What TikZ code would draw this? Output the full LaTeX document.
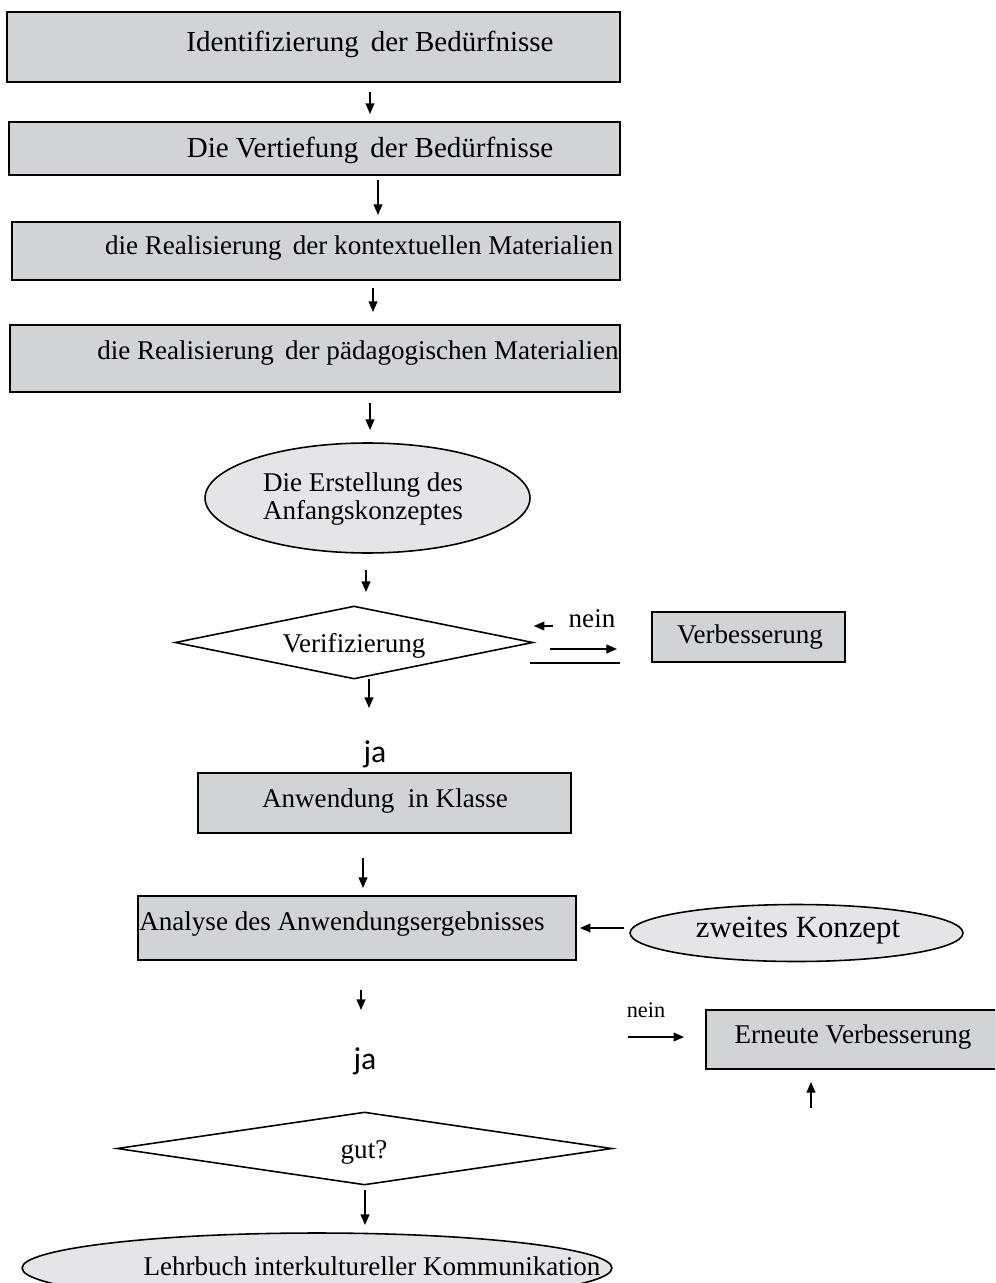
\documentclass[tikz,border=0pt]{standalone}
\usepackage{fontspec}
\setmainfont{Liberation Serif}
\newfontfamily\jafont{Carlito}
\usetikzlibrary{arrows.meta, shapes.geometric}
\definecolor{boxgray}{RGB}{210,211,213}
\definecolor{ovalgray}{RGB}{229,229,231}

\begin{document}
\begin{tikzpicture}[x=0.02cm, y=-0.02cm,
    every node/.style={font=\fontsize{15.4}{18}\selectfont},
    box/.style={draw, fill=boxgray, line width=1.1pt, inner sep=0pt},
    oval/.style={ellipse, draw, fill=ovalgray, line width=0.9pt, inner sep=0pt},
    rhomb/.style={diamond, draw, fill=white, line width=0.9pt, inner sep=0pt},
    arr/.style={-{Triangle[length=6pt,width=5pt]}, line width=0.8pt},
    bigtext/.style={font=\fontsize{16.5}{19}\selectfont},
    jatext/.style={font=\jafont\fontsize{18}{21}\selectfont}]
    \useasboundingbox (0,0) rectangle (995,1283);
    \fill[white] (0,0) rectangle (995,1283);
    \clip (0,0) rectangle (995,1283);

    % main column
    \node[box, minimum width=12.26cm, minimum height=1.4cm] at (313.5,47) (ident) {};
    \node[bigtext] at (370,44) (identtext) {Identifizierung\, der Bedürfnisse};
    \node[box, minimum width=12.22cm, minimum height=1.06cm] at (314.5,148.5) (vertief) {};
    \node[bigtext] at (370,150) (vertieftext) {Die Vertiefung\, der Bedürfnisse};
    \node[box, minimum width=12.16cm, minimum height=1.16cm] at (316,251) (kontext) {};
    \node at (359,248) (kontexttext) {die Realisierung\, der kontextuellen Materialien};
    \node[box, minimum width=12.2cm, minimum height=1.34cm] at (315,358.5) (paed) {};
    \node at (358,353) (paedtext) {die Realisierung\, der pädagogischen Materialien};

    \node[oval, minimum width=6.5cm, minimum height=2.2cm] at (367.5,498) (anfang) {};
    \node[align=center, font=\fontsize{15.4}{16}\selectfont] at (363,499) (anfangtext) {Die Erstellung des\\Anfangskonzeptes};

    \node[rhomb, minimum width=7.16cm, minimum height=1.46cm] at (354,642.5) (verif) {};
    \node at (354,646) (veriftext) {Verifizierung};
    \node[box, minimum width=3.86cm, minimum height=1cm] at (748.5,637) (verb) {};
    \node at (750,637) (verbtext) {Verbesserung};
    \node at (592,619) (nein1) {nein};

    \node[jatext] at (375,754) (ja1) {ja};
    \node[box, minimum width=7.46cm, minimum height=1.2cm] at (384.5,803) (anw) {};
    \node at (385,801) (anwtext) {Anwendung\ \ in Klasse};
    \node[box, minimum width=8.76cm, minimum height=1.28cm] at (357,928) (analyse) {};
    \node at (342,924) (analysetext) {Analyse des Anwendungsergebnisses};
    \node[oval, minimum width=6.66cm, minimum height=1.14cm] at (796.5,933) (zweites) {};
    \node[font=\fontsize{17.5}{20}\selectfont] at (798,931) (zweitestext) {zweites Konzept};

    \node[font=\fontsize{12.7}{15}\selectfont] at (646,1010) (nein2) {nein};
    \node[box, minimum width=5.8cm, minimum height=1.18cm] at (851,1039.5) (erneut) {};
    \node at (853,1037) (erneuttext) {Erneute Verbesserung};
    \node[jatext] at (365,1061) (ja2) {ja};

    \node[rhomb, minimum width=9.9cm, minimum height=1.46cm] at (364.5,1148.5) (gut) {};
    \node at (364,1152) (guttext) {gut?};
    \node[oval, minimum width=11.8cm, minimum height=1.4cm] at (317,1268) (lehrbuch) {};
    \node at (372,1266) (lehrbuchtext) {Lehrbuch interkultureller Kommunikation};

    % short arrows
    \foreach \x/\ya/\yb in {370/92/114, 378/180/215, 373/288/312, 370/403/430,
                            366/570/592, 369/679/708, 363/858/888, 361/990/1010,
                            365/1190/1225, 811/1108/1082}
        \draw[arr] (\x,\ya) -- (\x,\yb);
    \draw[arr] ([xshift=-0.2cm]nein1.west |- 0,626) -- (verif.east |- 0,626);
    \draw[arr] (550,649) -- (617,649);
    \draw[line width=0.9pt] (530,663) -- (620,663);
    \draw[arr] ([xshift=-0.1cm]zweites.west |- analyse.east) -- ([xshift=0.06cm]analyse.east);
    \draw[arr] (628,1037) -- ([xshift=-0.42cm]erneut.west |- 0,1037);
\end{tikzpicture}
\end{document}
